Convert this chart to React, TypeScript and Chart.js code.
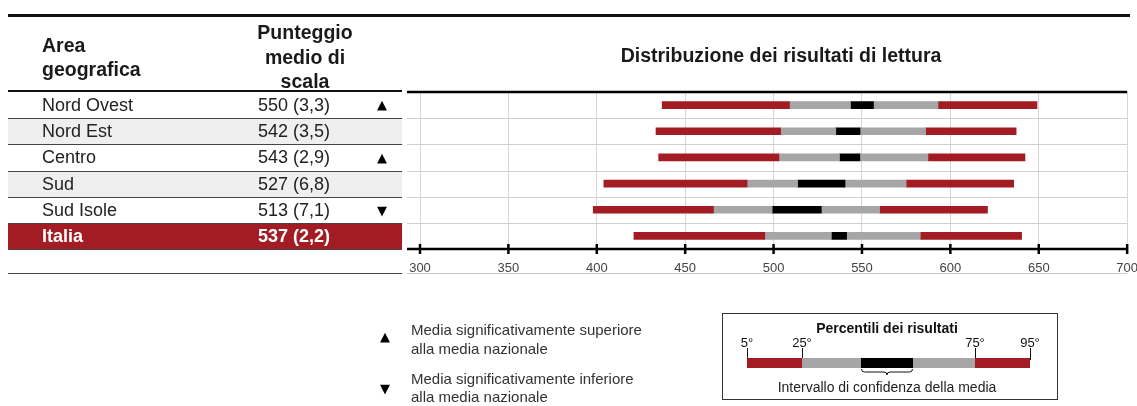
import React, { useEffect, useRef } from "react";
import { Chart, registerables } from "chart.js";

Chart.register(...registerables);

if (typeof document !== "undefined") {
  document.body.style.margin = "0";
  document.documentElement.style.overflow = "hidden";
}

const areas = ["Nord Ovest", "Nord Est", "Centro", "Sud", "Sud Isole", "Italia"];
const meanScores = ["550", "542", "543", "527", "513", "537"];
const standardErrors = ["3,3", "3,5", "2,9", "6,8", "7,1", "2,2"];
const significance = ["up", "", "up", "", "down", ""];
const p5 = [437, 433.5, 435, 404, 398, 421];
const p25 = [509, 504, 503, 485, 466, 495];
const ciLow = [543.5, 535.2, 537.3, 513.6, 499.2, 532.7];
const ciHigh = [556.5, 548.9, 548.8, 540.4, 527, 541.3];
const p75 = [593, 586, 587.3, 575, 560, 583];
const p95 = [649, 637.2, 642.2, 635.8, 621, 640.3];
const xMin = 300;
const xMax = 700;
const xStep = 50;

const RED = "#a31c24";
const GREY = "#a6a6a6";
const FONT = "'Liberation Sans', Arial, sans-serif";
const ROW_TOP = 92;
const ROW_H = 157 / 6;

const extrasPlugin = {
  id: "extras",
  beforeDatasetsDraw(chart: any) {
    const { ctx, chartArea, scales } = chart;
    const { left, right } = chartArea;
    const y = scales.y;
    ctx.save();
    ctx.strokeStyle = "#cfcfcf";
    ctx.lineWidth = 1;
    for (let i = 1; i < areas.length; i++) {
      const yy = Math.round((y.getPixelForValue(i - 1) + y.getPixelForValue(i)) / 2) + 0.5;
      ctx.beginPath();
      ctx.moveTo(left - 13, yy);
      ctx.lineTo(right, yy);
      ctx.stroke();
    }
    ctx.restore();
  },
  afterDraw(chart: any) {
    const { ctx, chartArea, scales } = chart;
    const { left, right, top, bottom } = chartArea;
    ctx.save();
    ctx.strokeStyle = "#000";
    ctx.lineWidth = 2.5;
    ctx.beginPath();
    ctx.moveTo(left - 13, top);
    ctx.lineTo(right, top);
    ctx.stroke();
    ctx.beginPath();
    ctx.moveTo(left - 13, bottom);
    ctx.lineTo(right, bottom);
    ctx.stroke();
    scales.x.ticks.forEach((t: any) => {
      const x = scales.x.getPixelForValue(t.value);
      ctx.beginPath();
      ctx.moveTo(x, bottom - 5);
      ctx.lineTo(x, bottom + 5);
      ctx.stroke();
    });
    ctx.strokeStyle = "#cccccc";
    ctx.lineWidth = 1;
    ctx.beginPath();
    ctx.moveTo(left - 13, bottom + 24.5);
    ctx.lineTo(right, bottom + 24.5);
    ctx.stroke();
    ctx.restore();
  },
};

function pairs(a: number[], b: number[]) {
  return a.map((v, i) => [v, b[i]]);
}

function ChartCanvas() {
  const ref = useRef<HTMLCanvasElement | null>(null);
  useEffect(() => {
    if (!ref.current) return;
    const common = { grouped: false, barThickness: 7, borderWidth: 0 };
    const chart = new Chart(ref.current, {
      type: "bar",
      data: {
        labels: areas,
        datasets: [
          { ...common, label: "5-25", data: pairs(p5, p25), backgroundColor: RED },
          { ...common, label: "25-CI", data: pairs(p25, ciLow), backgroundColor: GREY },
          { ...common, label: "CI", data: pairs(ciLow, ciHigh), backgroundColor: "#000" },
          { ...common, label: "CI-75", data: pairs(ciHigh, p75), backgroundColor: GREY },
          { ...common, label: "75-95", data: pairs(p75, p95), backgroundColor: RED },
        ] as any,
      },
      options: {
        indexAxis: "y",
        responsive: false,
        animation: false,
        layout: { padding: { left: 420, right: 2, top: ROW_TOP, bottom: 117.4 } },
        plugins: {
          legend: { display: false },
          title: { display: false },
          tooltip: { enabled: false },
        },
        scales: {
          x: {
            type: "linear",
            min: xMin,
            max: xMax,
            ticks: { stepSize: xStep, color: "#444", font: { size: 13, family: FONT }, padding: 12 },
            grid: { color: "#d6d6d6", drawTicks: false, lineWidth: 1 },
            border: { display: false },
          },
          y: { type: "category", display: false },
        },
      } as any,
      plugins: [extrasPlugin],
    });
    return () => chart.destroy();
  }, []);
  return (
    <canvas
      ref={ref}
      width={1150}
      height={406}
      style={{ position: "absolute", left: 0, top: 0, width: 1150, height: 406 }}
    />
  );
}

export default function App() {
  const abs = (s: any) => ({ position: "absolute" as const, ...s });
  return (
    <div
      style={{
        position: "relative",
        width: 1137,
        height: 406,
        overflow: "hidden",
        fontFamily: FONT,
        color: "#222",
        background: "#fff",
      }}
    >
      <ChartCanvas />
      {/* top rule */}
      <div style={abs({ left: 8, top: 14, width: 1122, height: 2.5, background: "#111" })} />
      {/* header */}
      <div style={abs({ left: 42, top: 33, fontSize: 19.5, fontWeight: 700, lineHeight: "24px", color: "#1a1a1a" })}>
        Area
        <br />
        geografica
      </div>
      <div
        style={abs({
          left: 205,
          width: 200,
          top: 20.3,
          fontSize: 19.5,
          fontWeight: 700,
          lineHeight: "24.5px",
          textAlign: "center",
          color: "#1a1a1a",
        })}
      >
        Punteggio
        <br />
        medio di
        <br />
        scala
      </div>
      <div style={abs({ left: 8, top: 90, width: 394, height: 2.5, background: "#111" })} />
      <div style={abs({ left: 433, width: 696, top: 42, fontSize: 19.5, fontWeight: 700, textAlign: "center", color: "#1a1a1a", lineHeight: "26px" })}>
        Distribuzione dei risultati di lettura
      </div>
      {/* table rows */}
      {areas.map((a, i) => {
        const isTotal = i === areas.length - 1;
        const bg = isTotal ? RED : i % 2 === 1 ? "#efefef" : "#ffffff";
        return (
          <div
            key={a}
            style={abs({
              left: 8,
              top: ROW_TOP + i * ROW_H,
              width: 394,
              height: ROW_H,
              background: bg,
              borderTop: i > 0 ? "1px solid #444" : "none",
              boxSizing: "border-box",
              color: isTotal ? "#fff" : "#222",
              fontWeight: isTotal ? 700 : 400,
              fontSize: 18,
              lineHeight: `${ROW_H - (i > 0 ? 1 : 0)}px`,
            })}
          >
            <span style={abs({ left: 34, top: 0 })}>{a}</span>
            <span style={abs({ left: 250, top: 0 })}>
              {meanScores[i]} ({standardErrors[i]})
            </span>
            {significance[i] && (
              <span
                style={abs({
                  left: 364,
                  width: 20,
                  top: 0,
                  textAlign: "center",
                  fontSize: 13,
                  fontFamily: "'DejaVu Sans', sans-serif",
                  color: "#000",
                })}
              >
                {significance[i] === "up" ? "▲" : "▼"}
              </span>
            )}
          </div>
        );
      })}
      <div style={abs({ left: 8, top: ROW_TOP + 6 * ROW_H - 0.5, width: 394, height: 1, background: "#444" })} />
      <div style={abs({ left: 8, top: 272.5, width: 394, height: 1.5, background: "#444" })} />
      {/* significance legend */}
      <div style={abs({ left: 375, width: 20, top: 328, textAlign: "center", fontSize: 13, lineHeight: "18px", fontFamily: "'DejaVu Sans', sans-serif", color: "#000" })}>▲</div>
      <div style={abs({ left: 411, top: 319.5, fontSize: 15, lineHeight: "19px", color: "#333" })}>
        Media significativamente superiore
        <br />
        alla media nazionale
      </div>
      <div style={abs({ left: 375, width: 20, top: 380, textAlign: "center", fontSize: 13, lineHeight: "18px", fontFamily: "'DejaVu Sans', sans-serif", color: "#000" })}>▼</div>
      <div style={abs({ left: 411, top: 369.5, fontSize: 15, lineHeight: "18.5px", color: "#333" })}>
        Media significativamente inferiore
        <br />
        alla media nazionale
      </div>
      {/* percentile legend box */}
      <div
        style={abs({
          left: 722,
          top: 313,
          width: 336,
          height: 87,
          border: "1.5px solid #333",
          boxSizing: "border-box",
        })}
      />
      <div style={abs({ left: 719, width: 336, top: 319, fontSize: 14, fontWeight: 700, textAlign: "center", lineHeight: "18px", color: "#111" })}>
        Percentili dei risultati
      </div>
      {[
        { t: "5°", x: 747 },
        { t: "25°", x: 802 },
        { t: "75°", x: 975 },
        { t: "95°", x: 1030 },
      ].map((l) => (
        <div key={l.t} style={abs({ left: l.x - 20, width: 40, top: 335, fontSize: 13, lineHeight: "16px", textAlign: "center", color: "#111" })}>
          {l.t}
        </div>
      ))}
      <svg width={1137} height={406} style={abs({ left: 0, top: 0, pointerEvents: "none" })}>
        {[747, 802, 975, 1030].map((x) => (
          <line key={x} x1={x + 0.5} x2={x + 0.5} y1={348} y2={360} stroke="#111" strokeWidth={1} />
        ))}
        <rect x={747} y={358} width={55} height={10} fill={RED} />
        <rect x={802} y={358} width={173} height={10} fill={GREY} />
        <rect x={861} y={358} width={52} height={10} fill="#000" />
        <rect x={975} y={358} width={55} height={10} fill={RED} />
        <path
          d="M861.5,369 q0,3 3,3 L884,372 q3,0 3,3 q0,-3 3,-3 L909.5,372 q3,0 3,-3"
          fill="none"
          stroke="#111"
          strokeWidth={1}
        />
      </svg>
      <div style={abs({ left: 719, width: 336, top: 378, fontSize: 14, textAlign: "center", lineHeight: "18px", color: "#222" })}>
        Intervallo di confidenza della media
      </div>
    </div>
  );
}
